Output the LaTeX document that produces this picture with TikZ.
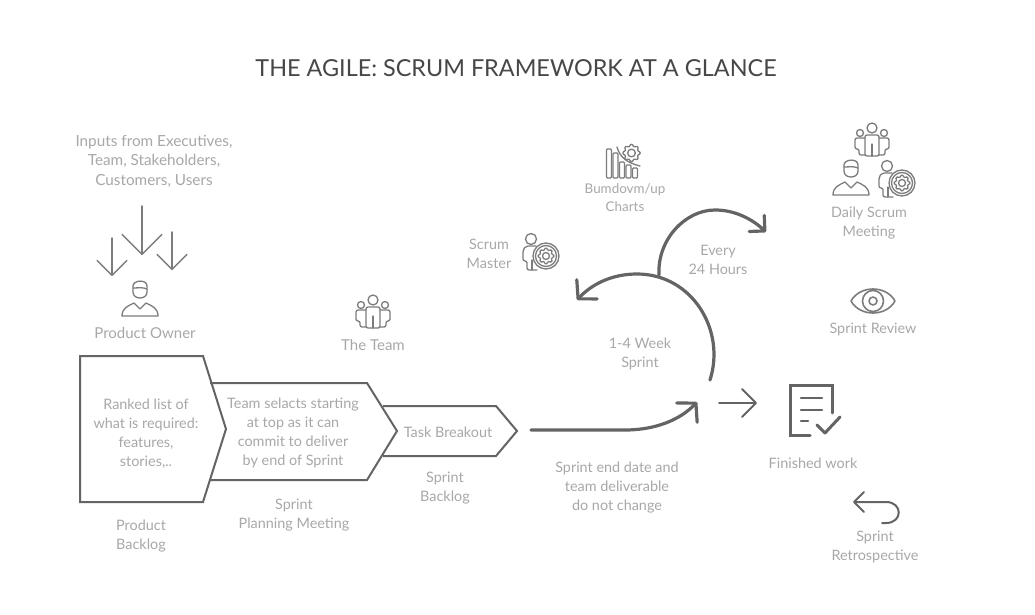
\documentclass[tikz,border=0pt]{standalone}
\usepackage{fontspec}
\setmainfont{Lato}
\usetikzlibrary{arrows.meta,positioning}
\definecolor{txtgray}{HTML}{A8A8A8}
\definecolor{titlegray}{HTML}{474747}
\definecolor{linegray}{HTML}{646464}
\definecolor{icongray}{HTML}{7C7C7C}

\begin{document}
\begin{tikzpicture}[x=1pt, y=-1pt,
    lbl/.style={text=txtgray, align=center, inner sep=0pt, yshift=-1pt, font=\fontsize{14.4}{19}\selectfont},
    box/.style={draw=linegray, line width=2pt, line join=miter},
    ar/.style={draw=linegray, line width=3.2pt, line cap=round, -{Straight Barb[length=13pt,width=28pt,round]}},
    thin ar/.style={draw=icongray, line width=1.4pt, line cap=round, -{Straight Barb[length=#1,width=2*#1,round]}},
    icon/.style={draw=icongray, line width=1.3pt, line join=round, line cap=round},
    gearicon/.pic={
        \draw [icon] plot [domain=0:360, samples=64, smooth cycle] ({(7+0.9*cos(8*\x))*cos(\x)}, {(7+0.9*cos(8*\x))*sin(\x)});
        \draw [icon] (0,0) circle (3.5);
    },
    ownericon/.pic={
        \draw [icon] (-7,-8) -- (-7,-14) .. controls (-7,-20) and (7,-21) .. (7,-14) -- (7,-8) .. controls (7,0) and (-7,0) .. (-7,-8) -- cycle;
        \draw [icon] (-7,-12) .. controls (-2,-12) and (3,-13) .. (7,-11);
        \draw [icon] (-18,16) .. controls (-18,8) and (-12,6) .. (-6,3) -- (0,9) -- (6,3) .. controls (12,6) and (18,8) .. (18,16) -- cycle;
    },
    teamicon/.pic={
        \draw [icon] (0,-12) circle (5);
        \draw [icon] (-12,-7) circle (3.5);
        \draw [icon] (12,-7) circle (3.5);
        \draw [icon, rounded corners=2pt] (-7,16) -- (-7,-5) -- (7,-5) -- (7,16) -- cycle;
        \draw [icon] (0,4) -- (0,16);
        \draw [icon, rounded corners=2pt] (-7,-2) -- (-17,-2) -- (-17,9) -- (-13,9) -- (-13,15) -- (-7,15);
        \draw [icon, rounded corners=2pt] (7,-2) -- (17,-2) -- (17,9) -- (13,9) -- (13,15) -- (7,15);
    },
    mastericon/.pic={
        \draw [icon] (-10,-13) circle (5.5);
        \draw [icon, rounded corners=2pt] (-5,-6) -- (-15,-6) -- (-18,-2) -- (-18,9) -- (-14,9) -- (-14,18) -- (-4,18);
        \draw [icon] (-9,8) -- (-9,18);
        \draw [icon, fill=white] (5,4) circle (13);
        \draw [icon] (5,4) circle (10.5);
        \pic at (5,4) {gearicon};
    }]
    \useasboundingbox [fill=white] (0,0) rectangle (1035,615);

    \node [lbl, text=titlegray, font=\fontsize{23.4}{28}\selectfont] (title) at (516,67) {THE AGILE: SCRUM FRAMEWORK AT A GLANCE};

    % left side
    \node [lbl, font=\fontsize{15.3}{19.5}\selectfont] (inputs) at (154,160) {Inputs from Executives,\\Team, Stakeholders,\\Customers, Users};
    \coordinate (inA) at (142,206); \coordinate (outA) at (142,255);
    \coordinate (inB) at (112,238); \coordinate (outB) at (112,276);
    \coordinate (inC) at (172,232); \coordinate (outC) at (172,270);
    \draw [thin ar=20pt] (inA) -- (outA);
    \draw [thin ar=15pt] (inB) -- (outB);
    \draw [thin ar=15pt] (inC) -- (outC);
    \pic (owner) at (140,300) {ownericon};
    \node [lbl, font=\fontsize{15}{19}\selectfont] (po) at (145,332) {Product Owner};

    \pic (team) at (373,312) {teamicon};
    \node [lbl, font=\fontsize{15}{19}\selectfont] (theteam) at (373,344) {The Team};

    % the three stacked boxes
    \draw [box] (210,383) -- (367,383) -- (397,431) -- (367,480) -- (210,480);
    \draw [box] (383,406) -- (496,406) -- (517,431) -- (496,456) -- (383,456);
    \draw [box] (80,356) -- (203,356) -- (226,429) -- (203,502) -- (80,502) -- cycle;
    \node [lbl] (ranked) at (146,433) {Ranked list of\\what is required:\\features,\\stories,..};
    \node [lbl] (selects) at (293,432) {Team selacts starting\\at top as it can\\commit to deliver\\by end of Sprint};
    \node [lbl] (task) at (448,431) {Task Breakout};
    \node [lbl] (pb) at (141,535) {Product\\Backlog};
    \node [lbl] (planning) at (294,514) {Sprint\\Planning Meeting};
    \node [lbl] (sb) at (445,487) {Sprint\\Backlog};

    % sprint loops
    \coordinate (mainA) at (531,430); \coordinate (mainB) at (697,402);
    \coordinate (bigA) at (710,380); \coordinate (bigB) at (577,300);
    \coordinate (dayA) at (659,275); \coordinate (dayB) at (766,232);
    \draw [ar] (mainA) -- (625,430) .. controls (655,430) and (680,420) .. (mainB);
    \draw [ar] (bigA) .. controls (726,330) and (692,274) .. (637,274) .. controls (612,274) and (592,284) .. (bigB);
    \draw [ar, -{Straight Barb[length=11pt,width=22pt,round]}] (dayA) .. controls (657,240) and (685,210) .. (715,210) .. controls (735,210) and (752,219) .. (dayB);
    \node [lbl] (enddate) at (617,487) {Sprint end date and\\team deliverable\\do not change};
    \node [lbl] (week) at (640,353) {1-4 Week\\Sprint};
    \node [lbl] (hours) at (718,259) {Every\\24 Hours};
    \node [lbl] (sm) at (489,253) {Scrum\\Master};
    \pic (master) at (541,252) {mastericon};

    % burndown chart
    \foreach \bx/\by in {609/149, 615.5/153, 622/162, 628.5/165, 635/168} {
        \draw [icon, rounded corners=1pt] (\bx-2.5,178) rectangle (\bx+2.5,\by);
    }
    \draw [icon] (617,147) .. controls (620,158) and (628,163) .. (640,166);
    \pic [scale=1.1] (chartgear) at (631.5,153) {gearicon};
    \node [lbl, font=\fontsize{13.4}{18}\selectfont] (burn) at (625,197) {Bumdovm/up\\Charts};

    % right column
    \pic (dailyteam) at (872,140) {teamicon};
    \pic (dailyowner) at (851,179) {ownericon};
    \pic (dailymaster) at (897,179) {mastericon};
    \node [lbl] (daily) at (869,222) {Daily Scrum\\Meeting};

    \draw [icon, line width=1.6pt] (851,301) .. controls (860,285) and (886,285) .. (895,301) .. controls (886,317) and (860,317) .. (851,301) -- cycle;
    \draw [icon, line width=1.6pt] (873,301) circle (10.5);
    \draw [icon, line width=1.6pt] (873,301) circle (4);
    \node [lbl] (review) at (873,328) {Sprint Review};

    \coordinate (doneA) at (719,403); \coordinate (doneB) at (757,403);
    \draw [thin ar=14pt, draw=linegray, line width=2pt] (doneA) -- (doneB);
    \draw [icon, draw=linegray, line width=3pt, line join=miter] (832,413) -- (832,385) -- (790,385) -- (790,435) -- (810,435);
    \draw [icon, draw=linegray, line width=2.6pt] (801,398) -- (822,398);
    \draw [icon, draw=linegray, line width=2.6pt] (801,410) -- (822,410);
    \draw [icon, draw=linegray, line width=2.6pt] (801,421) -- (808,421);
    \draw [icon, draw=linegray, line width=3pt] (817,425) -- (825,433) -- (840,417);
    \node [lbl] (finished) at (813,462) {Finished work};

    \coordinate (retroA) at (882,523); \coordinate (retroB) at (853,502);
    \draw [thin ar=10pt, draw=linegray, line width=2pt] (retroA) -- (886,523) .. controls (903,523) and (903,502) .. (886,502) -- (retroB);
    \node [lbl] (retro) at (875,546) {Sprint\\Retrospective};
\end{tikzpicture}
\end{document}
